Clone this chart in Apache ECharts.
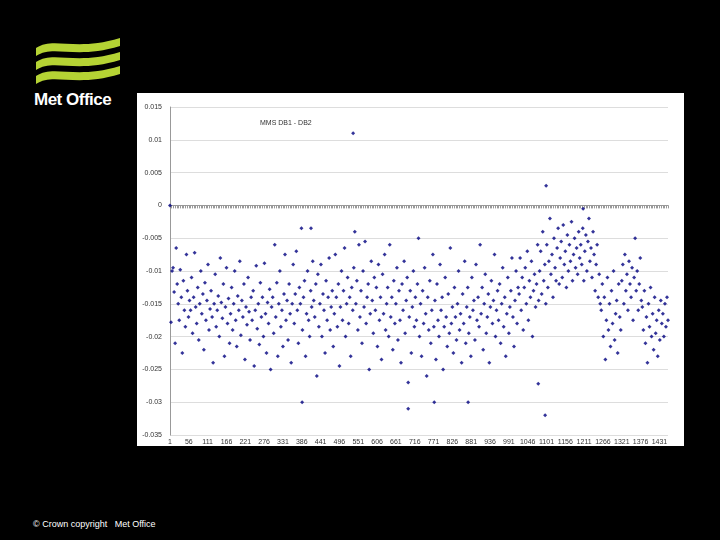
<!DOCTYPE html>
<html>
<head>
<meta charset="utf-8">
<script src="https://cdn.jsdelivr.net/npm/echarts@6/dist/echarts.min.js"></script>
<style>
body{margin:0;background:#000;width:720px;height:540px;overflow:hidden;font-family:"Liberation Sans",Arial,sans-serif}
#main{position:absolute;left:137px;top:93px;width:547px;height:353px;background:#fff}
#logo{position:absolute;left:34px;top:34px}
#brand{position:absolute;left:34px;top:90px;color:#fff;font-weight:bold;font-size:17px;letter-spacing:-0.5px}
#foot{position:absolute;left:33px;top:519px;color:#fff;font-size:9px}
</style>
</head>
<body>
<svg id="logo" width="88" height="56" viewBox="0 0 88 56">
  <path d="M2 14 C20 2 40 18 86 4 L86 12 C40 26 20 10 2 22 Z" fill="#b5d334"/>
  <path d="M2 28 C20 16 40 32 86 18 L86 26 C40 40 20 24 2 36 Z" fill="#b5d334"/>
  <path d="M2 42 C20 30 40 46 86 32 L86 40 C40 54 20 38 2 50 Z" fill="#b5d334"/>
</svg>
<div id="brand">Met Office</div>
<div id="main"></div>
<div id="foot">© Crown copyright &nbsp; Met Office</div>
<script>
// values in units of 1e-4, one per every 3rd record starting at record 1
var vals = [
0,-178,-100,-95,-132,-210,-65,-120,-150,-175,-98,-140,-225,-115,-160,-185,-75,-130,-170,-145,
-160,-110,-195,-140,-72,-155,-180,-125,-205,-150,-100,-165,-135,-220,-118,-175,-145,-90,-190,-158,
-130,-170,-240,-150,-105,-185,-160,-138,-200,-80,-148,-172,-120,-230,-155,-95,-180,-142,-210,-165,
-125,-190,-150,-100,-175,-215,-138,-160,-85,-198,-145,-170,-120,-235,-155,-182,-110,-162,-205,-140,
-175,-130,-245,-160,-92,-188,-150,-212,-118,-170,-140,-200,-88,-165,-225,-148,-180,-128,-250,-155,
-140,-195,-60,-170,-118,-230,-150,-100,-185,-160,-215,-135,-75,-175,-145,-205,-120,-165,-240,-150,
-90,-180,-135,-70,-160,-210,-125,-150,-35,-190,-140,-115,-230,-165,-100,-175,-200,-130,-155,-85,
-145,-170,-120,-260,-105,-185,-150,-90,-200,-135,-160,-225,-115,-175,-140,-80,-190,-155,-130,-215,
-165,-75,-140,-185,-120,-245,-155,-100,-175,-130,-65,-200,-150,-110,-180,-140,-230,-125,-160,-95,
-40,-150,-115,-190,-60,-170,-130,-210,-100,-155,-55,-180,-140,-120,-250,-165,-85,-145,-195,-110,
-160,-125,-215,-90,-175,-140,-235,-105,-165,-75,-190,-150,-125,-200,-60,-170,-140,-220,-115,-180,
-150,-95,-205,-130,-175,-240,-120,-160,-85,-195,-145,-110,-270,-170,-130,-225,-155,-100,-185,-140,
-175,-120,-50,-200,-150,-230,-130,-180,-95,-165,-260,-140,-190,-115,-210,-160,-75,-185,-145,-235,
-120,-175,-200,-90,-160,-140,-250,-185,-110,-170,-215,-135,-195,-65,-180,-155,-225,-125,-170,-205,
-150,-100,-190,-165,-240,-135,-180,-85,-210,-155,-125,-195,-170,-230,-110,-160,-145,-205,-90,-175,
-140,-185,-60,-165,-125,-220,-150,-105,-195,-170,-135,-240,-155,-115,-180,-145,-75,-200,-160,-130,
-175,-120,-210,-150,-95,-185,-140,-230,-165,-110,-195,-155,-130,-80,-170,-215,-145,-100,-180,-125,
-135,-80,-160,-110,-190,-125,-95,-150,-70,-175,-115,-140,-85,-200,-130,-105,-155,-120,-60,-145,
-100,-70,-135,-40,-115,-90,-150,-60,-125,-85,-20,-105,-75,-140,-50,-95,-115,-65,-35,-120,
-80,-55,-110,-30,-90,-70,-125,-45,-100,-60,-85,-25,-115,-75,-50,-95,-65,-105,-40,-80,
-60,-90,-35,-115,-70,-45,-100,-55,-20,-85,-65,-110,-40,-75,-130,-90,-60,-140,-105,-150,
-160,-120,-200,-140,-235,-175,-110,-190,-150,-215,-130,-180,-100,-205,-165,-145,-225,-120,-170,-190,
-115,-90,-150,-75,-130,-105,-160,-85,-120,-140,-95,-175,-110,-50,-130,-100,-160,-120,-80,-145,
-155,-190,-130,-210,-170,-240,-150,-185,-125,-200,-165,-220,-140,-195,-175,-230,-160,-205,-145,-180,
-165,-200,-150,-185,-140,-175
];
var outliers = [[536,110],[1100,30],[1097,-320],[697,-310],[387,-300],[773,-300],[872,-300],[1077,-272],[1208,-5],[413,-35]];
var nRecords = 1456;

var categories = [];
for (var i = 1; i <= nRecords; i++) categories.push(String(i));

var points = vals.map(function (v, k) { return [1 + 3 * k - 1, v / 10000]; });
outliers.forEach(function (o) { points.push([o[0] - 1, o[1] / 10000]); });

var chart = echarts.init(document.getElementById('main'));
chart.setOption({
  animation: false,
  title: {
    text: 'MMS DB1 - DB2', left: 118, top: 22,
    textStyle: { fontSize: 7, fontWeight: 'normal', color: '#333', fontFamily: 'Liberation Sans' }
  },
  grid: { left: 33, right: 16, top: 14, bottom: 11 },
  xAxis: {
    type: 'category', data: categories, boundaryGap: false,
    axisLine: { onZero: true, lineStyle: { color: '#999' } },
    axisTick: { interval: 4, length: 3, lineStyle: { color: '#999' } },
    axisLabel: { interval: 54, fontSize: 7, color: '#333', margin: 4, fontFamily: 'Liberation Sans' },
    splitLine: { show: false }
  },
  yAxis: {
    type: 'value', min: -0.035, max: 0.015, interval: 0.005,
    axisLine: { show: true, lineStyle: { color: '#999' } },
    axisTick: { show: false },
    axisLabel: { fontSize: 7, color: '#333', margin: 8, fontFamily: 'Liberation Sans' },
    splitLine: { lineStyle: { color: '#ddd' } }
  },
  series: [{
    type: 'scatter', data: points, symbol: 'diamond', symbolSize: 4,
    itemStyle: { color: '#000080' }
  }]
});
</script>
</body>
</html>
